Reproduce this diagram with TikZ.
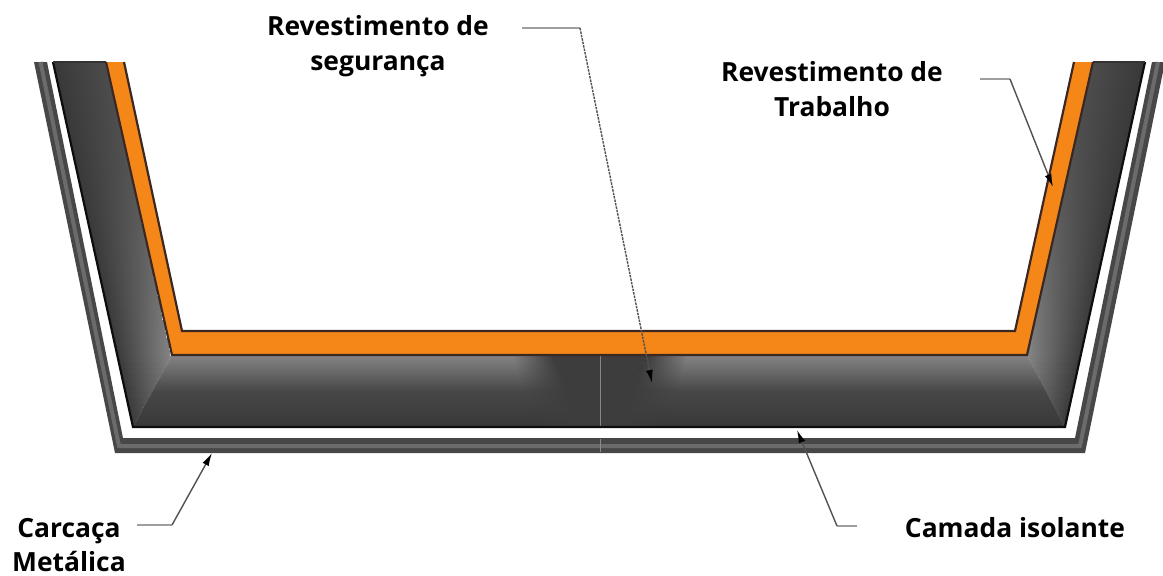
\documentclass[tikz,border=0pt]{standalone}
\usepackage{fontspec}
\setmainfont{Open Sans}
\usetikzlibrary{arrows.meta}
\definecolor{liningorange}{RGB}{245,135,25}
\definecolor{liningedge}{RGB}{60,40,35}
\tikzset{
  lbl/.style={font=\bfseries\fontsize{26.4}{34.5}\selectfont, align=center, text=black, inner sep=0pt},
  leadertail/.style={draw=black!38, line width=1.8pt},
  leader/.style={draw=black!68, line width=1.4pt, -{Latex[length=13pt,width=7pt,color=black]}},
  shellband/.style={fill=black!72},
  edgeline/.style={draw=liningedge, line width=2.2pt, line join=miter},
}
\begin{document}
\begin{tikzpicture}[x=1pt,y=-1pt]
\useasboundingbox (0,0) rectangle (1163,576);
\fill[white] (0,0) rectangle (1163,576);

% metal shell
\fill[shellband] (34,62) -- (115,453) -- (1085,453) -- (1165,62) -- (1152,62) -- (1075,438) -- (123,438) -- (47,62) -- cycle;
\draw[black!58, line width=4pt, line join=miter] (40.5,62) -- (119,446) -- (1080,446) -- (1158,62);
\draw[black!45, line width=.8pt] (600,439) -- (600,452);

% insulating refractory: walls as horizontal strips, lighter toward the floor
\foreach \s in {0,...,61} {
  \pgfmathsetmacro{\ya}{62+6*\s}
  \pgfmathsetmacro{\yb}{\ya+6.3}
  \pgfmathsetmacro{\xl}{53+.2192*(\ya-62)}
  \pgfmathsetmacro{\xr}{1145-.2192*(\ya-62)}
  \pgfmathsetmacro{\drop}{min(1,(\ya-62)/290)}
  \pgfmathsetmacro{\wallin}{70-22*\drop*\drop}
  \pgfmathsetmacro{\wallmid}{76-4*\drop}
  \begin{scope}
    \clip (53,62) -- (106,62) -- (172,355) -- (133,427) -- cycle;
    \shade[left color=black!78, middle color=black!\wallmid, right color=black!\wallin] (\xl-1,\ya) rectangle (\xl+54,\yb);
  \end{scope}
  \begin{scope}
    \clip (1145,62) -- (1093,62) -- (1027,355) -- (1065,427) -- cycle;
    \shade[left color=black!\wallin, middle color=black!\wallmid, right color=black!78] (\xr-54,\ya) rectangle (\xr+1,\yb);
  \end{scope}
}
% floor
\begin{scope}
\clip (133,427) -- (172,355) -- (1027,355) -- (1065,427) -- cycle;
\shade[top color=black!48, bottom color=black!78, middle color=black!72] (120,355) rectangle (1080,427);
% darker patch under the centre of the floor, built from thin horizontal strips
\foreach \t in {0,...,35} {
  \pgfmathsetmacro{\frc}{(\t+.5)/36}
  \pgfmathsetmacro{\tone}{\frc<.5 ? 48+48*\frc : 72+6*(2*\frc-1)}
  \pgfmathsetmacro{\patchout}{88-25*\frc}
  \pgfmathsetmacro{\patchflat}{48-30*\frc}
  \pgfmathsetmacro{\ya}{355+2*\t}
  \pgfmathsetmacro{\yb}{355+2*\t+2.3}
  \shade[left color=black!\tone, right color=black!76] (600-\patchout,\ya) rectangle (600-\patchflat,\yb);
  \fill[black!76] (600-\patchflat-.2,\ya) rectangle (600+\patchflat+.2,\yb);
  \shade[left color=black!76, right color=black!\tone] (600+\patchflat,\ya) rectangle (600+\patchout,\yb);
}
\end{scope}
\draw[black!48, line width=.9pt] (600,356) -- (600,426);
\draw[black!95, line width=2.2pt, line join=miter] (53,62) -- (133,427) -- (1065,427) -- (1145,62);
\draw[black!80, line width=1.4pt] (53,62) -- (106,62) (1093,62) -- (1145,62);

% working lining
\fill[liningorange] (106,62) -- (172,355) -- (1027,355) -- (1093,62) -- (1074,62) -- (1015,331) -- (182,331) -- (124,62) -- cycle;
\draw[edgeline] (106,62) -- (172,355) -- (1027,355) -- (1093,62);
\draw[edgeline] (124,62) -- (182,331) -- (1015,331) -- (1074,62);

% labels
\node[lbl] (seguranca) at (378,46) {Revestimento de\\segurança};
\node[lbl] (trabalho) at (832,89) {Revestimento de\\Trabalho};
\node[lbl] (carcaca) at (69,545) {Carcaça\\Metálica};
\node[lbl] (camada) at (1015,528) {Camada isolante};

% leader anchor points
\coordinate (segstart) at (522,28);
\coordinate (segbend) at (580,28);
\coordinate (segtip) at (652,383);
\coordinate (trabstart) at (980,79);
\coordinate (trabbend) at (1010,79);
\coordinate (trabtip) at (1053,187);
\coordinate (carstart) at (137,525);
\coordinate (carbend) at (172,525);
\coordinate (cartip) at (212,453);
\coordinate (camstart) at (857,526);
\coordinate (cambend) at (837,526);
\coordinate (camtip) at (797,430);

% leaders
\draw[leadertail] (segstart) -- (segbend);
\draw[leader, dash pattern=on 2.5pt off 1pt] (segbend) -- (segtip);
\draw[leadertail] (trabstart) -- (trabbend);
\draw[leader] (trabbend) -- (trabtip);
\draw[leadertail] (carstart) -- (carbend);
\draw[leader] (carbend) -- (cartip);
\draw[leadertail] (camstart) -- (cambend);
\draw[leader] (cambend) -- (camtip);
\end{tikzpicture}
\end{document}
